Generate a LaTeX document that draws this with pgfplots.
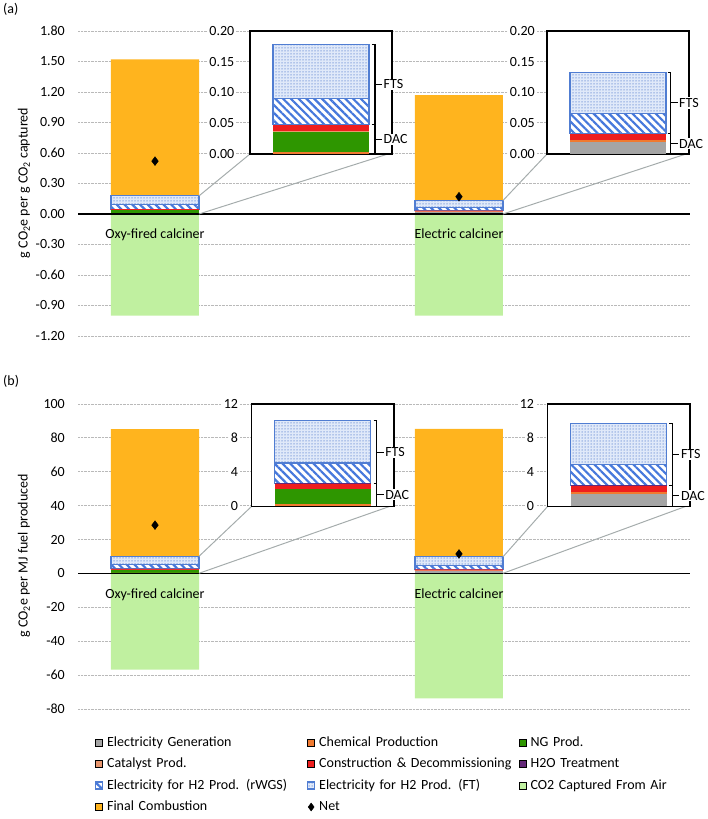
\documentclass[border=0pt]{standalone}
\usepackage{fontspec}
\setmainfont{Carlito}
\usepackage{pgfplots}
\pgfplotsset{compat=1.18}
\usetikzlibrary{patterns.meta}

\definecolor{cElec}{RGB}{165,165,165}
\definecolor{cChem}{RGB}{240,122,48}
\definecolor{cNG}{RGB}{46,150,0}
\definecolor{cCat}{RGB}{232,150,110}
\definecolor{cCon}{RGB}{238,30,30}
\definecolor{cH2O}{RGB}{100,40,120}
\definecolor{cBlue}{RGB}{80,125,210}
\definecolor{cHatch}{RGB}{70,120,220}
\definecolor{cFTfill}{RGB}{224,233,249}
\definecolor{cFTdot}{RGB}{130,160,220}
\definecolor{cCap}{RGB}{192,240,160}
\definecolor{cComb}{RGB}{255,180,30}
\definecolor{cGrid}{RGB}{185,185,185}
\definecolor{cConn}{RGB}{165,172,172}

\pgfplotsset{
  /pgf/number format/assume math mode=true,
  sElec/.style={fill=cElec, draw=none},
  sChem/.style={fill=cChem, draw=none},
  sNG/.style={fill=cNG, draw=none},
  sCat/.style={fill=cCat, draw=none},
  sCon/.style={fill=cCon, draw=none},
  sH2O/.style={fill=cH2O, draw=none},
  sRW/.style={draw=cBlue, line width=1.1pt, preaction={fill=white}, pattern={Lines[angle=-45,distance=5.5bp,line width=2.2bp]}, pattern color=cHatch},
  sFT/.style={draw=cBlue, line width=1.1pt, preaction={fill=cFTfill}, pattern={Dots[distance=3bp,radius=0.75bp]}, pattern color=cFTdot},
  sCap/.style={fill=cCap, draw=none},
  sComb/.style={fill=cComb, draw=none},
  boxleg/.style={legend image code/.code={\draw[##1] (0bp,-3.5bp) rectangle (7bp,3.5bp);}},
  netleg/.style={legend image code/.code={\draw[black] plot[mark=diamond*, mark size=4bp] coordinates {(3.5bp,0bp)};}},
  mainbase/.style={scale only axis, width=612bp, height=305bp, anchor=south west,
    xmin=-0.2533, xmax=1.760},
  gridaxis/.style={mainbase, axis x line=none, axis y line*=left,
    y axis line style={draw=none}, major tick length=0, xtick=\empty,
    ymajorgrids, grid style={cGrid, densely dotted, line width=0.9pt},
    ybar, bar width=88bp, bar shift=0pt},
  stackaxis/.style={mainbase, axis on top, axis x line*=middle, axis y line=none,
    x axis line style={black, line width=1.2pt}, xtick={0,1},
    xticklabels={Oxy-fired calciner, Electric calciner}, major tick length=0,
    xticklabel style={anchor=north, inner sep=0pt, yshift=-15bp},
    ybar stacked, bar width=88bp},
  netaxis/.style={mainbase, hide axis},
  insetbase/.style={scale only axis, width=142bp, anchor=south west,
    xmin=-0.5, xmax=0.5, xtick=\empty, major tick length=0, clip=false,
    axis background/.style={fill=white}, axis line style={black, line width=1.2pt},
    ybar stacked, bar width=96bp,
    yticklabel style={fill=white, inner sep=1.5bp}},
}

\begin{document}
\fontsize{14bp}{16.8bp}\selectfont
\begin{tikzpicture}

% ---------------- Panel (a) ----------------
\begin{axis}[gridaxis, at={(78bp,483bp)}, ymin=-1.2, ymax=1.8,
  ytick={-1.2,-0.9,-0.6,-0.3,0,0.3,0.6,0.9,1.2,1.5,1.8},
  y tick label style={/pgf/number format/fixed, /pgf/number format/fixed zerofill, /pgf/number format/precision=2, xshift=-8.3bp}]
  \addplot[sCap] coordinates {(0,-1.00) (1,-1.00)};
\end{axis}
\begin{axis}[stackaxis, at={(78bp,483bp)}, ymin=-1.2, ymax=1.8]
  \addplot[sElec] coordinates {(0,0) (1,0.020)};
  \addplot[sChem] coordinates {(0,0.004) (1,0.003)};
  \addplot[sNG] coordinates {(0,0.032) (1,0)};
  \addplot[sCat] coordinates {(0,0.001) (1,0.0005)};
  \addplot[sCon] coordinates {(0,0.010) (1,0.009)};
  \addplot[sH2O] coordinates {(0,0.0005) (1,0.0005)};
  \addplot[sRW] coordinates {(0,0.043) (1,0.033)};
  \addplot[sFT] coordinates {(0,0.088) (1,0.067)};
  \addplot[sComb] coordinates {(0,1.342) (1,1.037)};
\end{axis}
\begin{axis}[netaxis, at={(78bp,483bp)}, ymin=-1.2, ymax=1.8]
  \addplot[only marks, mark=diamond*, mark size=4.4bp, black] coordinates {(0,0.52) (1,0.17)};
\end{axis}

% connector lines (a)
\draw[cConn, line width=1pt] (250bp,665bp) -- (199bp,623.1bp);
\draw[cConn, line width=1pt] (388bp,665bp) -- (199bp,605bp);
\draw[cConn, line width=1pt] (547bp,665bp) -- (503bp,618.5bp);
\draw[cConn, line width=1pt] (686bp,665bp) -- (503bp,605bp);

% inset (a) oxy
\begin{axis}[insetbase, at={(250bp,665bp)}, height=123bp, ymin=0, ymax=0.2,
  ytick={0,0.05,0.1,0.15,0.2},
  y tick label style={/pgf/number format/fixed, /pgf/number format/fixed zerofill, /pgf/number format/precision=2, xshift=-14bp}]
  \addplot[sElec] coordinates {(0,0)};
  \addplot[sChem] coordinates {(0,0.004)};
  \addplot[sNG] coordinates {(0,0.032)};
  \addplot[sCat] coordinates {(0,0.001)};
  \addplot[sCon] coordinates {(0,0.010)};
  \addplot[sH2O] coordinates {(0,0.0005)};
  \addplot[sRW] coordinates {(0,0.043)};
  \addplot[sFT] coordinates {(0,0.088)};
  \draw[black, line width=1.1pt] (axis cs:0.359,0.1785) -- (axis cs:0.380,0.1785) -- (axis cs:0.380,0) -- (axis cs:0.359,0);
  \draw[black, line width=1.1pt] (axis cs:0.359,0.0475) -- (axis cs:0.380,0.0475);
  \draw[black, line width=1.1pt] (axis cs:0.380,0.113) -- (axis cs:0.43,0.113) node[right, inner sep=1bp, fill=white] {FTS};
  \draw[black, line width=1.1pt] (axis cs:0.380,0.0238) -- (axis cs:0.43,0.0238) node[right, inner sep=1bp, fill=white] {DAC};
\end{axis}

% inset (a) electric
\begin{axis}[insetbase, at={(547bp,665bp)}, height=123bp, ymin=0, ymax=0.2,
  ytick={0,0.05,0.1,0.15,0.2},
  y tick label style={/pgf/number format/fixed, /pgf/number format/fixed zerofill, /pgf/number format/precision=2, xshift=-10.5bp}]
  \addplot[sElec] coordinates {(0,0.020)};
  \addplot[sChem] coordinates {(0,0.003)};
  \addplot[sNG] coordinates {(0,0)};
  \addplot[sCat] coordinates {(0,0.0005)};
  \addplot[sCon] coordinates {(0,0.009)};
  \addplot[sH2O] coordinates {(0,0.0005)};
  \addplot[sRW] coordinates {(0,0.033)};
  \addplot[sFT] coordinates {(0,0.067)};
  \draw[black, line width=1.1pt] (axis cs:0.350,0.133) -- (axis cs:0.371,0.133) -- (axis cs:0.371,0) -- (axis cs:0.350,0);
  \draw[black, line width=1.1pt] (axis cs:0.350,0.033) -- (axis cs:0.371,0.033);
  \draw[black, line width=1.1pt] (axis cs:0.371,0.083) -- (axis cs:0.42,0.083) node[right, inner sep=1bp, fill=white] {FTS};
  \draw[black, line width=1.1pt] (axis cs:0.371,0.0165) -- (axis cs:0.42,0.0165) node[right, inner sep=1bp, fill=white] {DAC};
\end{axis}

% ---------------- Panel (b) ----------------
\begin{axis}[gridaxis, at={(78bp,110bp)}, ymin=-80, ymax=100,
  ytick={-80,-60,-40,-20,0,20,40,60,80,100},
  y tick label style={xshift=-8.3bp}]
  \addplot[sCap] coordinates {(0,-56.7) (1,-73.8)};
\end{axis}
\begin{axis}[stackaxis, at={(78bp,110bp)}, ymin=-80, ymax=100]
  \addplot[sElec] coordinates {(0,0) (1,1.4)};
  \addplot[sChem] coordinates {(0,0.3) (1,0.27)};
  \addplot[sNG] coordinates {(0,1.7) (1,0)};
  \addplot[sCat] coordinates {(0,0.05) (1,0.03)};
  \addplot[sCon] coordinates {(0,0.6) (1,0.72)};
  \addplot[sH2O] coordinates {(0,0.03) (1,0.02)};
  \addplot[sRW] coordinates {(0,2.4) (1,2.5)};
  \addplot[sFT] coordinates {(0,4.95) (1,4.8)};
  \addplot[sComb] coordinates {(0,75.2) (1,75.6)};
\end{axis}
\begin{axis}[netaxis, at={(78bp,110bp)}, ymin=-80, ymax=100]
  \addplot[only marks, mark=diamond*, mark size=4.4bp, black] coordinates {(0,28.5) (1,11.5)};
\end{axis}

% connector lines (b)
\draw[cConn, line width=1pt] (251.7bp,312.7bp) -- (199bp,262.7bp);
\draw[cConn, line width=1pt] (390bp,312.7bp) -- (199bp,245.7bp);
\draw[cConn, line width=1pt] (547.7bp,312.7bp) -- (503bp,262.2bp);
\draw[cConn, line width=1pt] (686bp,312.7bp) -- (503bp,245.7bp);

% inset (b) oxy
\begin{axis}[insetbase, at={(251.7bp,312.7bp)}, width=142.3bp, height=102.3bp, ymin=0, ymax=12,
  ytick={0,4,8,12}, y tick label style={xshift=-12bp}]
  \addplot[sElec] coordinates {(0,0)};
  \addplot[sChem] coordinates {(0,0.3)};
  \addplot[sNG] coordinates {(0,1.7)};
  \addplot[sCat] coordinates {(0,0.05)};
  \addplot[sCon] coordinates {(0,0.6)};
  \addplot[sH2O] coordinates {(0,0.03)};
  \addplot[sRW] coordinates {(0,2.4)};
  \addplot[sFT] coordinates {(0,4.95)};
  \draw[black, line width=1.1pt] (axis cs:0.357,10.03) -- (axis cs:0.378,10.03) -- (axis cs:0.378,0) -- (axis cs:0.357,0);
  \draw[black, line width=1.1pt] (axis cs:0.357,2.68) -- (axis cs:0.378,2.68);
  \draw[black, line width=1.1pt] (axis cs:0.378,6.35) -- (axis cs:0.428,6.35) node[right, inner sep=1bp, fill=white] {FTS};
  \draw[black, line width=1.1pt] (axis cs:0.378,1.34) -- (axis cs:0.428,1.34) node[right, inner sep=1bp, fill=white] {DAC};
\end{axis}

% inset (b) electric
\begin{axis}[insetbase, at={(547.7bp,312.7bp)}, width=142.3bp, height=102.3bp, ymin=0, ymax=12,
  ytick={0,4,8,12}, y tick label style={xshift=-12bp}]
  \addplot[sElec] coordinates {(0,1.4)};
  \addplot[sChem] coordinates {(0,0.27)};
  \addplot[sNG] coordinates {(0,0)};
  \addplot[sCat] coordinates {(0,0.03)};
  \addplot[sCon] coordinates {(0,0.72)};
  \addplot[sH2O] coordinates {(0,0.02)};
  \addplot[sRW] coordinates {(0,2.5)};
  \addplot[sFT] coordinates {(0,4.8)};
  \draw[black, line width=1.1pt] (axis cs:0.355,9.74) -- (axis cs:0.376,9.74) -- (axis cs:0.376,0) -- (axis cs:0.355,0);
  \draw[black, line width=1.1pt] (axis cs:0.355,2.44) -- (axis cs:0.376,2.44);
  \draw[black, line width=1.1pt] (axis cs:0.376,6.09) -- (axis cs:0.426,6.09) node[right, inner sep=1bp, fill=white] {FTS};
  \draw[black, line width=1.1pt] (axis cs:0.376,1.22) -- (axis cs:0.426,1.22) node[right, inner sep=1bp, fill=white] {DAC};
\end{axis}

% ---------------- Legend ----------------
\begin{axis}[at={(0bp,0bp)}, anchor=south west, scale only axis, width=708bp, height=819bp,
  hide axis, xmin=0, xmax=1, ymin=0, ymax=1,
  legend columns=3, legend cell align=left,
  legend style={at={(0.1342,0.1013)}, anchor=north west, draw=none, fill=none,
    inner sep=0pt, outer sep=0pt, row sep=8.5bp,
    nodes={inner sep=0pt, text width=200bp, text height=10bp, text depth=3bp, align=left},
    /tikz/every odd column/.append style={column sep=4bp}}]
  \addlegendimage{boxleg, sElec} \addlegendentry{Electricity Generation}
  \addlegendimage{boxleg, sChem} \addlegendentry{Chemical Production}
  \addlegendimage{boxleg, sNG} \addlegendentry{NG Prod.}
  \addlegendimage{boxleg, sCat} \addlegendentry{Catalyst Prod.}
  \addlegendimage{boxleg, sCon} \addlegendentry{Construction \& Decommissioning}
  \addlegendimage{boxleg, sH2O} \addlegendentry{H2O Treatment}
  \addlegendimage{boxleg, sRW} \addlegendentry{Electricity for H2 Prod. (rWGS)}
  \addlegendimage{boxleg, sFT} \addlegendentry{Electricity for H2 Prod. (FT)}
  \addlegendimage{boxleg, sCap} \addlegendentry{CO2 Captured From Air}
  \addlegendimage{boxleg, sComb} \addlegendentry{Final Combustion}
  \addlegendimage{netleg} \addlegendentry{Net}
\end{axis}

% panel labels and y labels
\node[anchor=west, inner sep=0pt] at (3bp,810bp) {(a)};
\node[anchor=west, inner sep=0pt] at (3bp,438bp) {(b)};
\node[rotate=90, inner sep=0pt] at (24bp,636bp) {g CO\textsubscript{2}e per g CO\textsubscript{2} captured};
\node[rotate=90, inner sep=0pt] at (24bp,263bp) {g CO\textsubscript{2}e per MJ fuel produced};

\pgfresetboundingbox
\path (0bp,0bp) rectangle (708bp,819bp);
\end{tikzpicture}
\end{document}
